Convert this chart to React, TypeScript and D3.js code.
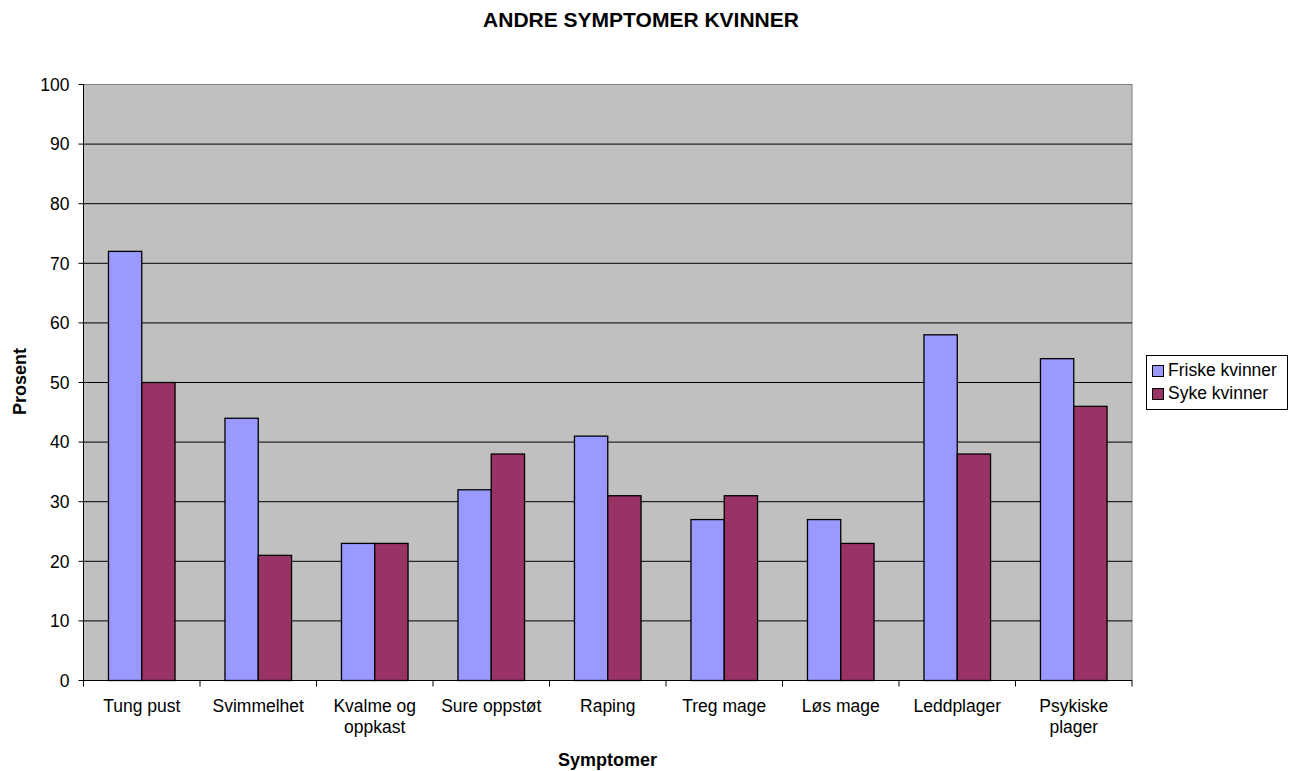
import React from "react";
import * as d3 from "d3";

const categories: string[][] = [
  ["Tung pust"],
  ["Svimmelhet"],
  ["Kvalme og", "oppkast"],
  ["Sure oppstøt"],
  ["Raping"],
  ["Treg mage"],
  ["Løs mage"],
  ["Leddplager"],
  ["Psykiske", "plager"],
];
const friske: number[] = [72, 44, 23, 32, 41, 27, 27, 58, 54];
const syke: number[] = [50, 21, 23, 38, 31, 31, 23, 38, 46];
const seriesNames: string[] = ["Friske kvinner", "Syke kvinner"];
const seriesColors: string[] = ["#9999FF", "#993366"];
const yTicks: number[] = [0, 10, 20, 30, 40, 50, 60, 70, 80, 90, 100];

const W = 1302;
const H = 771;
const left = 83.5;
const right = 1132;
const top = 84.5;
const bottom = 680.5;
const font = "Arial, 'Liberation Sans', sans-serif";

export default function App() {
  const x = d3
    .scaleBand<number>()
    .domain(d3.range(categories.length))
    .range([left, right]);
  const y = d3.scaleLinear().domain([0, 100]).range([bottom, top]);
  const band = x.bandwidth();
  const barW = band / 3.5;
  const inner = d3
    .scaleBand<number>()
    .domain([0, 1])
    .range([(band - 2 * barW) / 2, (band + 2 * barW) / 2]);
  const series = [friske, syke];

  return (
    <svg
      width={W}
      height={H}
      style={{ position: "absolute", left: 0, top: 0, background: "#fff" }}
      fontFamily={font}
    >
      <text x={641} y={27} textAnchor="middle" fontSize={21} fontWeight="bold">
        ANDRE SYMPTOMER KVINNER
      </text>
      <rect x={left} y={top} width={right - left} height={bottom - top} fill="#C0C0C0" stroke="#808080" strokeWidth={1} />
      {yTicks.map((t) => (
        <g key={t}>
          {t > 0 && t < 100 && (
            <line x1={left} x2={right} y1={y(t)} y2={y(t)} stroke="#000" strokeWidth={1} />
          )}
          <line x1={left - 5} x2={left} y1={y(t)} y2={y(t)} stroke="#000" />
          <text x={left - 14} y={y(t)} dy="0.36em" textAnchor="end" fontSize={17.5}>
            {t}
          </text>
        </g>
      ))}
      {series.map((vals, s) =>
        vals.map((v, i) => (
          <rect
            key={`${s}-${i}`}
            x={(x(i) ?? 0) + (inner(s) ?? 0)}
            y={y(v)}
            width={inner.bandwidth()}
            height={y(0) - y(v)}
            fill={seriesColors[s]}
            stroke="#000"
            strokeWidth={1.3}
          />
        ))
      )}
      <line x1={left} x2={left} y1={top} y2={bottom} stroke="#000" />
      <line x1={left} x2={right} y1={bottom} y2={bottom} stroke="#000" />
      {d3.range(categories.length + 1).map((i) => {
        const xx = left + i * band;
        return <line key={i} x1={xx} x2={xx} y1={bottom} y2={bottom + 6} stroke="#000" />;
      })}
      {categories.map((lines, i) =>
        lines.map((ln, j) => (
          <text
            key={`${i}-${j}`}
            x={(x(i) ?? 0) + band / 2}
            y={712 + j * 21}
            textAnchor="middle"
            fontSize={17.5}
          >
            {ln}
          </text>
        ))
      )}
      <text x={607.5} y={766} textAnchor="middle" fontSize={18} fontWeight="bold">
        Symptomer
      </text>
      <text
        transform={`translate(26, 381.5) rotate(-90)`}
        textAnchor="middle"
        fontSize={18}
        fontWeight="bold"
      >
        Prosent
      </text>
      <rect x={1146.5} y={355.5} width={141} height={54} fill="#fff" stroke="#000" />
      {seriesNames.map((n, s) => (
        <g key={n}>
          <rect x={1152.5} y={365.5 + s * 23} width={11} height={11} fill={seriesColors[s]} stroke="#000" />
          <text x={1168} y={376 + s * 23} fontSize={17.5}>
            {n}
          </text>
        </g>
      ))}
    </svg>
  );
}
